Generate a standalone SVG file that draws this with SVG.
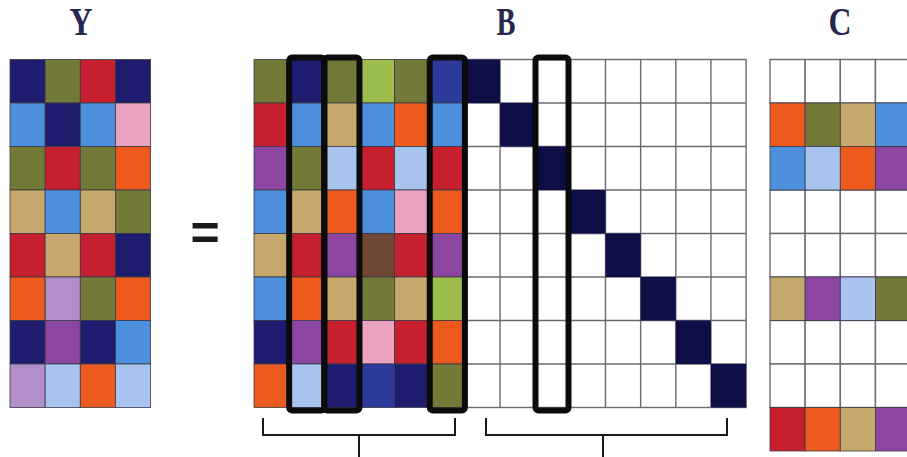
<svg xmlns="http://www.w3.org/2000/svg" width="907" height="457" viewBox="0 0 907 457">
<style>
.c rect{stroke:#3a3a48;stroke-width:0.8}
.g rect{fill:#fff;stroke:#6a6a72;stroke-width:1.4}
.nv{fill:#1e1c6e}.ol{fill:#737a38}.rd{fill:#c6202e}.bl{fill:#4c8fdc}.pk{fill:#eaa4c2}
.or{fill:#ec5a1e}.tn{fill:#c6a86c}.pu{fill:#8c46a2}.li{fill:#b18fc8}.lb{fill:#a9c3ef}
.lg{fill:#9dbd4d}.br{fill:#6e4632}.ro{fill:#2c3a9c}.dk{fill:#0f0f48}.wh{fill:#fff}
.lbl{font-family:"Liberation Serif","Times New Roman",serif;font-size:39px;font-weight:bold;fill:#26284f;text-anchor:middle}
.box{fill:none;stroke:#0b0b0b;stroke-width:6}
.brk{fill:none;stroke:#1a1a1a;stroke-width:2}
</style>
<rect width="907" height="457" fill="#fff"/>
<text class="lbl" x="81" y="35" textLength="23" lengthAdjust="spacingAndGlyphs">Y</text>
<text class="lbl" x="506" y="35" textLength="19" lengthAdjust="spacingAndGlyphs">B</text>
<text class="lbl" x="840" y="35" textLength="23" lengthAdjust="spacingAndGlyphs">C</text>
<text x="205" y="250" style="font-family:'Liberation Sans',Arial,sans-serif;font-size:50px;font-weight:bold;fill:#1a1a1a;text-anchor:middle">=</text>

<g id="Y" class="c">
<rect class="nv" x="10" y="59.5" width="35.15" height="43.5"/><rect class="ol" x="45.15" y="59.5" width="35.15" height="43.5"/><rect class="rd" x="80.3" y="59.5" width="35.15" height="43.5"/><rect class="nv" x="115.45" y="59.5" width="35.15" height="43.5"/>
<rect class="bl" x="10" y="103" width="35.15" height="43.5"/><rect class="nv" x="45.15" y="103" width="35.15" height="43.5"/><rect class="bl" x="80.3" y="103" width="35.15" height="43.5"/><rect class="pk" x="115.45" y="103" width="35.15" height="43.5"/>
<rect class="ol" x="10" y="146.5" width="35.15" height="43.5"/><rect class="rd" x="45.15" y="146.5" width="35.15" height="43.5"/><rect class="ol" x="80.3" y="146.5" width="35.15" height="43.5"/><rect class="or" x="115.45" y="146.5" width="35.15" height="43.5"/>
<rect class="tn" x="10" y="190" width="35.15" height="43.5"/><rect class="bl" x="45.15" y="190" width="35.15" height="43.5"/><rect class="tn" x="80.3" y="190" width="35.15" height="43.5"/><rect class="ol" x="115.45" y="190" width="35.15" height="43.5"/>
<rect class="rd" x="10" y="233.5" width="35.15" height="43.5"/><rect class="tn" x="45.15" y="233.5" width="35.15" height="43.5"/><rect class="rd" x="80.3" y="233.5" width="35.15" height="43.5"/><rect class="nv" x="115.45" y="233.5" width="35.15" height="43.5"/>
<rect class="or" x="10" y="277" width="35.15" height="43.5"/><rect class="li" x="45.15" y="277" width="35.15" height="43.5"/><rect class="ol" x="80.3" y="277" width="35.15" height="43.5"/><rect class="or" x="115.45" y="277" width="35.15" height="43.5"/>
<rect class="nv" x="10" y="320.5" width="35.15" height="43.5"/><rect class="pu" x="45.15" y="320.5" width="35.15" height="43.5"/><rect class="nv" x="80.3" y="320.5" width="35.15" height="43.5"/><rect class="bl" x="115.45" y="320.5" width="35.15" height="43.5"/>
<rect class="li" x="10" y="364" width="35.15" height="43.5"/><rect class="lb" x="45.15" y="364" width="35.15" height="43.5"/><rect class="or" x="80.3" y="364" width="35.15" height="43.5"/><rect class="lb" x="115.45" y="364" width="35.15" height="43.5"/>
</g>

<g id="B">
<g class="c">
<rect class="ol" x="254" y="59.5" width="35.15" height="43.5"/><rect class="nv" x="289.15" y="59.5" width="35.15" height="43.5"/><rect class="ol" x="324.3" y="59.5" width="35.15" height="43.5"/><rect class="lg" x="359.45" y="59.5" width="35.15" height="43.5"/><rect class="ol" x="394.6" y="59.5" width="35.15" height="43.5"/><rect class="ro" x="429.75" y="59.5" width="35.15" height="43.5"/>
<rect class="rd" x="254" y="103" width="35.15" height="43.5"/><rect class="bl" x="289.15" y="103" width="35.15" height="43.5"/><rect class="tn" x="324.3" y="103" width="35.15" height="43.5"/><rect class="bl" x="359.45" y="103" width="35.15" height="43.5"/><rect class="or" x="394.6" y="103" width="35.15" height="43.5"/><rect class="bl" x="429.75" y="103" width="35.15" height="43.5"/>
<rect class="pu" x="254" y="146.5" width="35.15" height="43.5"/><rect class="ol" x="289.15" y="146.5" width="35.15" height="43.5"/><rect class="lb" x="324.3" y="146.5" width="35.15" height="43.5"/><rect class="rd" x="359.45" y="146.5" width="35.15" height="43.5"/><rect class="lb" x="394.6" y="146.5" width="35.15" height="43.5"/><rect class="rd" x="429.75" y="146.5" width="35.15" height="43.5"/>
<rect class="bl" x="254" y="190" width="35.15" height="43.5"/><rect class="tn" x="289.15" y="190" width="35.15" height="43.5"/><rect class="or" x="324.3" y="190" width="35.15" height="43.5"/><rect class="bl" x="359.45" y="190" width="35.15" height="43.5"/><rect class="pk" x="394.6" y="190" width="35.15" height="43.5"/><rect class="or" x="429.75" y="190" width="35.15" height="43.5"/>
<rect class="tn" x="254" y="233.5" width="35.15" height="43.5"/><rect class="rd" x="289.15" y="233.5" width="35.15" height="43.5"/><rect class="pu" x="324.3" y="233.5" width="35.15" height="43.5"/><rect class="br" x="359.45" y="233.5" width="35.15" height="43.5"/><rect class="rd" x="394.6" y="233.5" width="35.15" height="43.5"/><rect class="pu" x="429.75" y="233.5" width="35.15" height="43.5"/>
<rect class="bl" x="254" y="277" width="35.15" height="43.5"/><rect class="or" x="289.15" y="277" width="35.15" height="43.5"/><rect class="tn" x="324.3" y="277" width="35.15" height="43.5"/><rect class="ol" x="359.45" y="277" width="35.15" height="43.5"/><rect class="tn" x="394.6" y="277" width="35.15" height="43.5"/><rect class="lg" x="429.75" y="277" width="35.15" height="43.5"/>
<rect class="nv" x="254" y="320.5" width="35.15" height="43.5"/><rect class="pu" x="289.15" y="320.5" width="35.15" height="43.5"/><rect class="rd" x="324.3" y="320.5" width="35.15" height="43.5"/><rect class="pk" x="359.45" y="320.5" width="35.15" height="43.5"/><rect class="rd" x="394.6" y="320.5" width="35.15" height="43.5"/><rect class="or" x="429.75" y="320.5" width="35.15" height="43.5"/>
<rect class="or" x="254" y="364" width="35.15" height="43.5"/><rect class="lb" x="289.15" y="364" width="35.15" height="43.5"/><rect class="nv" x="324.3" y="364" width="35.15" height="43.5"/><rect class="ro" x="359.45" y="364" width="35.15" height="43.5"/><rect class="nv" x="394.6" y="364" width="35.15" height="43.5"/><rect class="ol" x="429.75" y="364" width="35.15" height="43.5"/>
</g>
<g class="g">
<rect x="464.9" y="59.5" width="281.2" height="348"/>
</g>
<g stroke="#6a6a72" stroke-width="1.4">
<line x1="500.05" y1="59.5" x2="500.05" y2="407.5"/><line x1="535.2" y1="59.5" x2="535.2" y2="407.5"/><line x1="570.35" y1="59.5" x2="570.35" y2="407.5"/><line x1="605.5" y1="59.5" x2="605.5" y2="407.5"/><line x1="640.65" y1="59.5" x2="640.65" y2="407.5"/><line x1="675.8" y1="59.5" x2="675.8" y2="407.5"/><line x1="710.95" y1="59.5" x2="710.95" y2="407.5"/>
<line x1="464.9" y1="103" x2="746.1" y2="103"/><line x1="464.9" y1="146.5" x2="746.1" y2="146.5"/><line x1="464.9" y1="190" x2="746.1" y2="190"/><line x1="464.9" y1="233.5" x2="746.1" y2="233.5"/><line x1="464.9" y1="277" x2="746.1" y2="277"/><line x1="464.9" y1="320.5" x2="746.1" y2="320.5"/><line x1="464.9" y1="364" x2="746.1" y2="364"/>
</g>
<g class="dk">
<rect x="464.9" y="59.5" width="35.15" height="43.5"/><rect x="500.05" y="103" width="35.15" height="43.5"/><rect x="535.2" y="146.5" width="35.15" height="43.5"/><rect x="570.35" y="190" width="35.15" height="43.5"/><rect x="605.5" y="233.5" width="35.15" height="43.5"/><rect x="640.65" y="277" width="35.15" height="43.5"/><rect x="675.8" y="320.5" width="35.15" height="43.5"/><rect x="710.95" y="364" width="35.15" height="43.5"/>
</g>
<rect class="box" x="289.15" y="57.5" width="35.15" height="353" rx="3"/>
<rect class="box" x="324.3" y="57.5" width="35.15" height="353" rx="3"/>
<rect class="box" x="429.75" y="57.5" width="35.15" height="353" rx="3"/>
<rect class="box" x="535.5" y="57.5" width="33" height="353" rx="3"/>
</g>

<g id="C">
<g class="g">
<rect x="770" y="59.5" width="35.15" height="43.5"/><rect x="805.15" y="59.5" width="35.15" height="43.5"/><rect x="840.3" y="59.5" width="35.15" height="43.5"/><rect x="875.45" y="59.5" width="35.15" height="43.5"/>
<rect x="770" y="190" width="35.15" height="43.5"/><rect x="805.15" y="190" width="35.15" height="43.5"/><rect x="840.3" y="190" width="35.15" height="43.5"/><rect x="875.45" y="190" width="35.15" height="43.5"/>
<rect x="770" y="233.5" width="35.15" height="43.5"/><rect x="805.15" y="233.5" width="35.15" height="43.5"/><rect x="840.3" y="233.5" width="35.15" height="43.5"/><rect x="875.45" y="233.5" width="35.15" height="43.5"/>
<rect x="770" y="320.5" width="35.15" height="43.5"/><rect x="805.15" y="320.5" width="35.15" height="43.5"/><rect x="840.3" y="320.5" width="35.15" height="43.5"/><rect x="875.45" y="320.5" width="35.15" height="43.5"/>
<rect x="770" y="364" width="35.15" height="43.5"/><rect x="805.15" y="364" width="35.15" height="43.5"/><rect x="840.3" y="364" width="35.15" height="43.5"/><rect x="875.45" y="364" width="35.15" height="43.5"/>
</g>
<g class="c">
<rect class="or" x="770" y="103" width="35.15" height="43.5"/><rect class="ol" x="805.15" y="103" width="35.15" height="43.5"/><rect class="tn" x="840.3" y="103" width="35.15" height="43.5"/><rect class="bl" x="875.45" y="103" width="35.15" height="43.5"/>
<rect class="bl" x="770" y="146.5" width="35.15" height="43.5"/><rect class="lb" x="805.15" y="146.5" width="35.15" height="43.5"/><rect class="or" x="840.3" y="146.5" width="35.15" height="43.5"/><rect class="pu" x="875.45" y="146.5" width="35.15" height="43.5"/>
<rect class="tn" x="770" y="277" width="35.15" height="43.5"/><rect class="pu" x="805.15" y="277" width="35.15" height="43.5"/><rect class="lb" x="840.3" y="277" width="35.15" height="43.5"/><rect class="ol" x="875.45" y="277" width="35.15" height="43.5"/>
<rect class="rd" x="770" y="407.5" width="35.15" height="43.5"/><rect class="or" x="805.15" y="407.5" width="35.15" height="43.5"/><rect class="tn" x="840.3" y="407.5" width="35.15" height="43.5"/><rect class="pu" x="875.45" y="407.5" width="35.15" height="43.5"/>
</g>
</g>

<g id="connectors" class="brk">
<path d="M263 418 V435 H455 V418 M359 435 V457"/>
<path d="M486 418 V435 H727 V418 M603 435 V457"/>
</g>
</svg>
